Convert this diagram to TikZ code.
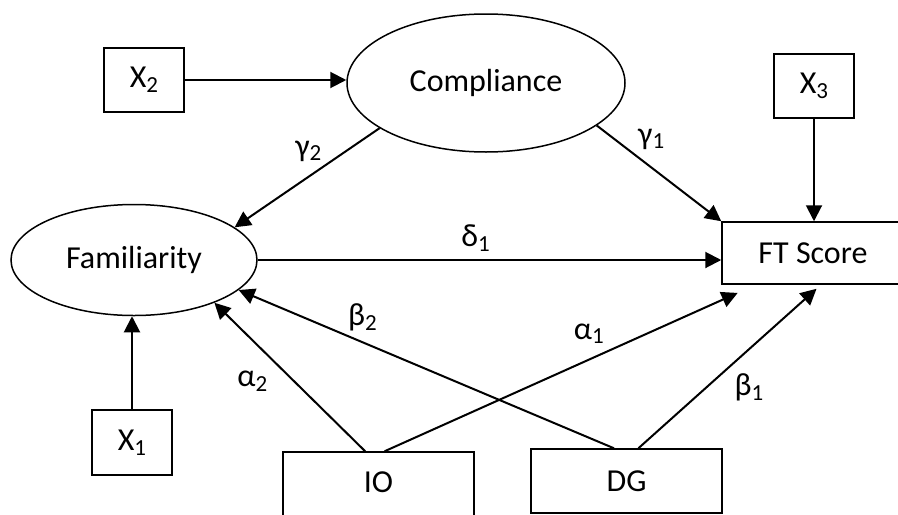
\documentclass[tikz,border=0pt]{standalone}
\usepackage{fontspec}
\setmainfont{Carlito}
\usetikzlibrary{arrows.meta,shapes.geometric}
\newcommand{\idx}[1]{\raisebox{-0.15em}{\fontsize{11.5}{12}\selectfont #1}}

\begin{document}
\begin{tikzpicture}[->,>={Triangle[length=8pt,width=8pt]},line width=1pt,
    x=0.5pt,y=-0.5pt,font=\fontsize{16}{18}\selectfont]
    \tikzstyle{box}=[draw=black,line width=0.75pt,rectangle,inner sep=0pt]
    \tikzstyle{latent}=[draw=black,line width=0.75pt,ellipse,inner sep=0pt]
    \useasboundingbox (0,0) rectangle (898,514);
    \node[box,minimum width=40pt,minimum height=32pt]       (X2) at (144,80)    {X\idx{2}};
    \node[latent,minimum width=139pt,minimum height=69pt]   (C)  at (486,83)    {Compliance};
    \node[box,minimum width=40pt,minimum height=32pt]       (X3) at (814,86)    {X\idx{3}};
    \node[latent,minimum width=123pt,minimum height=55.5pt] (F)  at (134,260)   {Familiarity};
    \node[box,minimum width=99pt,minimum height=31pt]       (FT) at (821,253)   {\hspace*{-8pt}FT Score};
    \node[box,minimum width=40pt,minimum height=32.5pt]     (X1) at (132,442.5) {X\idx{1}};
    \node[box,minimum width=95.5pt,minimum height=34pt]     (IO) at (378.5,486) {\raisebox{3.5pt}{IO}};
    \node[box,minimum width=95.5pt,minimum height=32pt]     (DG) at (626.5,481) {DG};
    \path (X2) edge (X2 -| C.west)
    (C.203) edge node[pos=0.23,xshift=-19pt] {γ\idx{2}} (F.18)
    (C.339) edge node[pos=0.14,xshift=18.5pt] {γ\idx{1}} (FT.north west)
    (X3) edge (X3 |- FT.north)
    (F.east) edge node[pos=0.47,yshift=11pt] {δ\idx{1}} (F.east -| FT.west)
    (X1) edge (X1 |- F.south)
    (IO.111) edge node[pos=0.47,xshift=-21pt] {α\idx{2}} (F.332)
    (IO.80) edge[shorten >=10pt] node[pos=0.55,yshift=13pt] {α\idx{1}} (FT.206)
    (DG.111) edge node[pos=0.67,yshift=12.5pt] {β\idx{2}} (F.344)
    (DG.70) edge[shorten >=3pt] node[pos=0.37,xshift=21.5pt] {β\idx{1}} (FT.south);
\end{tikzpicture}
\end{document}
